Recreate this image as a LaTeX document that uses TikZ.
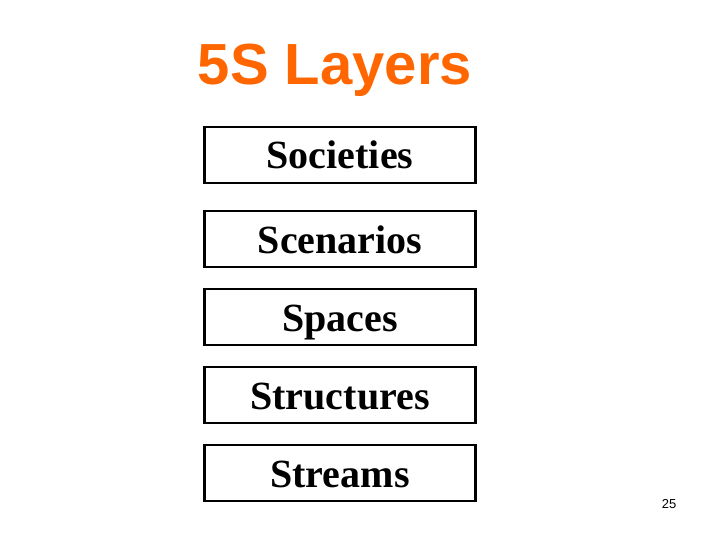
\documentclass[tikz,border=0pt]{standalone}
\usepackage{fontspec}
\setmainfont{Liberation Serif}
\newfontfamily\titlefont{Liberation Sans}
\usepackage{tikz}
\usetikzlibrary{positioning}
\usepackage{xcolor}
\definecolor{ssorange}{RGB}{255,102,0}
\tikzstyle{layer} = [rectangle, minimum width=271pt, minimum height=56pt, text height=32pt, text depth=4pt, text centered, draw=black, line width=2.6pt, fill=white, font=\fontsize{40}{44}\selectfont\bfseries]
\tikzstyle{heading} = [font=\titlefont\fontsize{58}{62}\selectfont\bfseries, text=ssorange]

\begin{document}
\begin{tikzpicture}[x=1pt, y=-1pt]
    \useasboundingbox (0,0) rectangle (720,540);
    % Title
    \node[heading] (title) at (335,70) {5S Layers};

    % Layer boxes
    \node[layer] (societies) at (340,155) {Societies};
    \node[layer] (scenarios) at (340,239) {Scenarios};
    \node[layer] (spaces) at (340,317) {Spaces};
    \node[layer] (structures) at (340,395) {Structures};
    \node[layer] (streams) at (340,473) {Streams};

    % Page number
    \node[font=\titlefont\fontsize{13}{15}\selectfont] (pagenum) at (669,504) {25};
\end{tikzpicture}
\end{document}
